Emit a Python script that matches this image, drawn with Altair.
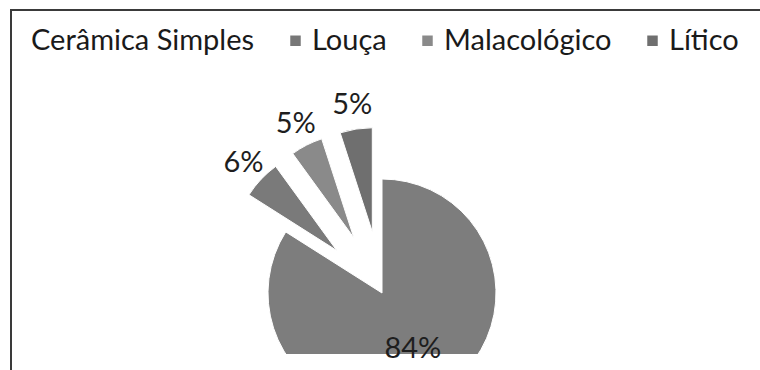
import altair as alt
import pandas as pd

# ---- data ----
categories = ["Cerâmica Simples", "Louça", "Malacológico", "Lítico"]
values = [84, 6, 5, 5]
labels = ["84%", "6%", "5%", "5%"]

# ---- style ----
slice_colors = ["#7d7d7d", "#7a7a7a", "#8a8a8a", "#6f6f6f"]
legend_colors = ["transparent", "#777777", "#8a8a8a", "#6f6f6f"]
FONT = "Lato"

df = pd.DataFrame({
    "category": categories,
    "value": values,
    "label": labels,
    "order": list(range(len(categories))),
})

CX, CY = 382, 293          # pie centre (px)
EXPLODE = 62               # explosion of the small slices (px)
R_BIG, R_SMALL = 114, 104  # slice radii (px)
LR_BIG, LR_SMALL = 64, 128 # label radii (px)
TOTAL = sum(values)

base = alt.Chart(df).transform_window(
    cum="sum(value)", sort=[alt.SortField("order")], frame=[None, 0]
).transform_joinaggregate(
    total="sum(value)"
).transform_calculate(
    start="datum.cum - datum.value",
    mid="(datum.cum - datum.value / 2) / datum.total * 2 * PI",
    ex=f"datum.order == 0 ? 0 : {EXPLODE}",
    r=f"datum.order == 0 ? {R_BIG} : {R_SMALL}",
    lr=f"datum.order == 0 ? {LR_BIG} : {LR_SMALL}",
).transform_calculate(
    cx=f"{CX} + datum.ex * sin(datum.mid)",
    cy=f"{CY} - datum.ex * cos(datum.mid)",
).transform_calculate(
    lx="datum.cx + datum.lr * sin(datum.mid)",
    ly="datum.cy - datum.lr * cos(datum.mid)",
)

theta_scale = alt.Scale(domain=[0, TOTAL], range=[0, 6.283185307179586])

arcs = base.mark_arc(clip=True, stroke="white", strokeWidth=1).encode(
    theta=alt.Theta("start:Q", scale=theta_scale),
    theta2="cum:Q",
    radius=alt.Radius("r:Q", scale=None),
    x=alt.X("cx:Q", scale=None, axis=None),
    y=alt.Y("cy:Q", scale=None, axis=None),
    color=alt.Color("category:N", scale=alt.Scale(domain=categories, range=slice_colors), legend=None),
)

texts = base.mark_text(font=FONT, fontSize=29, color="#1e1e1e", align="center", baseline="middle").encode(
    x=alt.X("lx:Q", scale=None, axis=None),
    y=alt.Y("ly:Q", scale=None, axis=None),
    text="label:N",
)

legend_layer = alt.Chart(df).mark_square(size=100).encode(
    x=alt.value(420),
    y=alt.value(320),
    color=alt.Color(
        "category:N",
        scale=alt.Scale(domain=categories, range=legend_colors),
        sort=categories,
        legend=alt.Legend(
            title=None, orient="none", legendX=0, legendY=26, direction="horizontal",
            symbolType="square", symbolSize=110, symbolStrokeWidth=0, symbolOpacity=1,
            labelFont=FONT, labelFontSize=29, labelColor="#1a1a1a",
            columnPadding=26, labelOffset=2, labelLimit=0,
        ),
    ),
)

frame_top = alt.Chart(df).mark_rule(color="#3a3a3a", strokeWidth=2).encode(
    x=alt.value(10), x2=alt.value(760), y=alt.value(10)
)
frame_left = alt.Chart(df).mark_rule(color="#3a3a3a", strokeWidth=2).encode(
    x=alt.value(11), y=alt.value(10), y2=alt.value(370)
)

chart = alt.layer(legend_layer, arcs, texts, frame_top, frame_left).resolve_scale(
    color="independent"
).properties(
    width=760, height=354,
    padding={"left": 0, "top": 0, "right": 0, "bottom": 16},
    autosize="none",
    background="white",
).configure_view(stroke=None)

chart.save("out.html", embed_options={"renderer": "svg", "actions": False})
